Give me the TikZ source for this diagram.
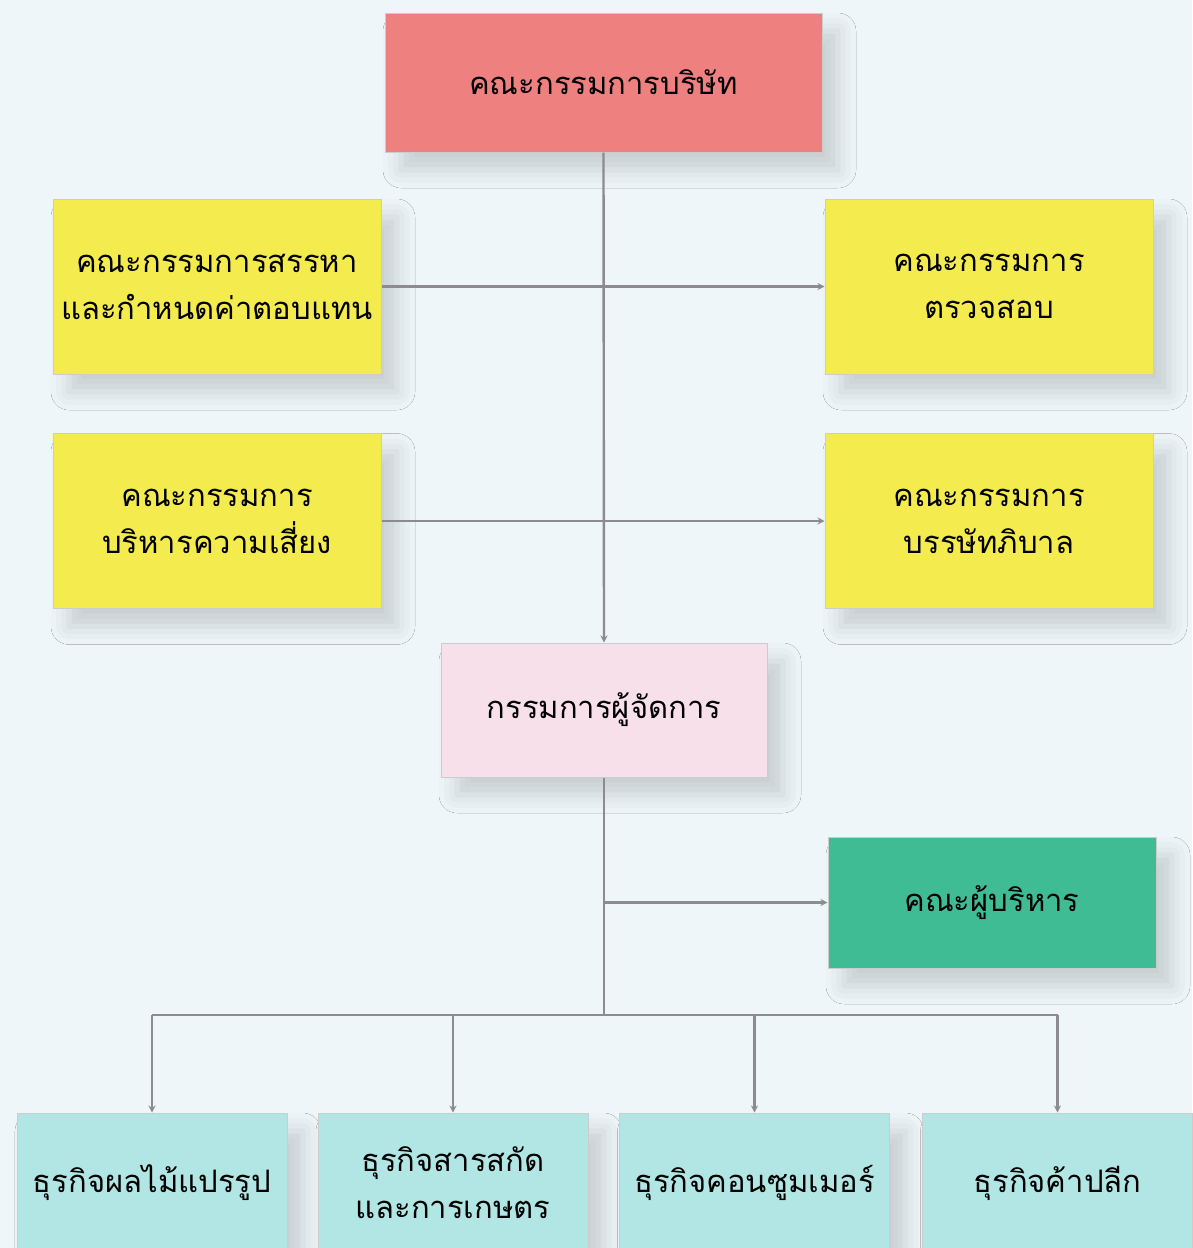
\documentclass[tikz,border=0pt]{standalone}
\usepackage{fontspec}
\setmainfont[Script=Thai]{Loma}
\usetikzlibrary{arrows.meta,shadows.blur}

\definecolor{paper}{HTML}{EEF6F9}
\definecolor{boardred}{HTML}{EF8080}
\definecolor{cmtyellow}{HTML}{F4EC4E}
\definecolor{mdpink}{HTML}{F8E0EB}
\definecolor{execgreen}{HTML}{40BC95}
\definecolor{bizteal}{HTML}{B2E6E4}
\definecolor{linegray}{HTML}{8C8C90}

\begin{document}
\begin{tikzpicture}[x=1pt,y=-1pt,
  every node/.style = {shape=rectangle, draw=black!20, line width=1pt,
    align=center, font=\fontsize{31}{47}\selectfont,
    blur shadow={shadow xshift=16pt, shadow yshift=-18pt,
      shadow opacity=16, shadow blur radius=18pt}},
  board/.style = {fill=boardred, minimum width=437pt, minimum height=139pt},
  cmt/.style = {fill=cmtyellow, minimum width=328pt, minimum height=175pt},
  md/.style = {fill=mdpink, minimum width=326pt, minimum height=134pt},
  exec/.style = {fill=execgreen, minimum width=328pt, minimum height=131pt},
  biz/.style = {fill=bizteal, minimum width=270pt, minimum height=140pt},
  wire/.style = {draw=linegray, line width=2.4pt},
  link/.style = {wire, -{Stealth[length=7pt,width=7pt]}}]
  \fill[paper] (0,0) rectangle (1192,1248);
  \useasboundingbox (0,0) rectangle (1192,1248);

  % board and committees
  \node[board] (board) at (603.5,82.5) {คณะกรรมการบริษัท};
  \node[cmt] (nomin) at (217,286.5) {คณะกรรมการสรรหา\\และกำหนดค่าตอบแทน};
  \node[cmt] (audit) at (989,286.5) {คณะกรรมการ\\ตรวจสอบ};
  \node[cmt] (risk) at (217,521) {คณะกรรมการ\\บริหารความเสี่ยง};
  \node[cmt] (gov) at (989,521) {คณะกรรมการ\\บรรษัทภิบาล};

  % management
  \node[md] (md) at (604,710) {กรรมการผู้จัดการ};
  \node[exec] (exec) at (992,902.5) {คณะผู้บริหาร};
  \coordinate (bus) at (604,1015);

  % business units
  \node[biz] (fruit) at (152,1183) {ธุรกิจผลไม้แปรรูป};
  \node[biz] (extract) at (453,1183) {ธุรกิจสารสกัด\\และการเกษตร};
  \node[biz] (consumer) at (754.5,1183) {ธุรกิจคอนซูมเมอร์};
  \node[biz] (retail) at (1057.5,1183) {ธุรกิจค้าปลีก};

  \draw[link] (board.south) -- (md.north);
  \draw[link] (nomin.east) -- (audit.west);
  \draw[link] (risk.east) -- (gov.west);
  \draw[wire] (md.south) -- (bus);
  \draw[link] (md.south |- exec.west) -- (exec.west);
  \draw[wire] (fruit.north |- bus) -- (retail.north |- bus);
  \foreach \b in {fruit,extract,consumer,retail}
    \draw[link] (\b.north |- bus) -- (\b.north);
\end{tikzpicture}
\end{document}
